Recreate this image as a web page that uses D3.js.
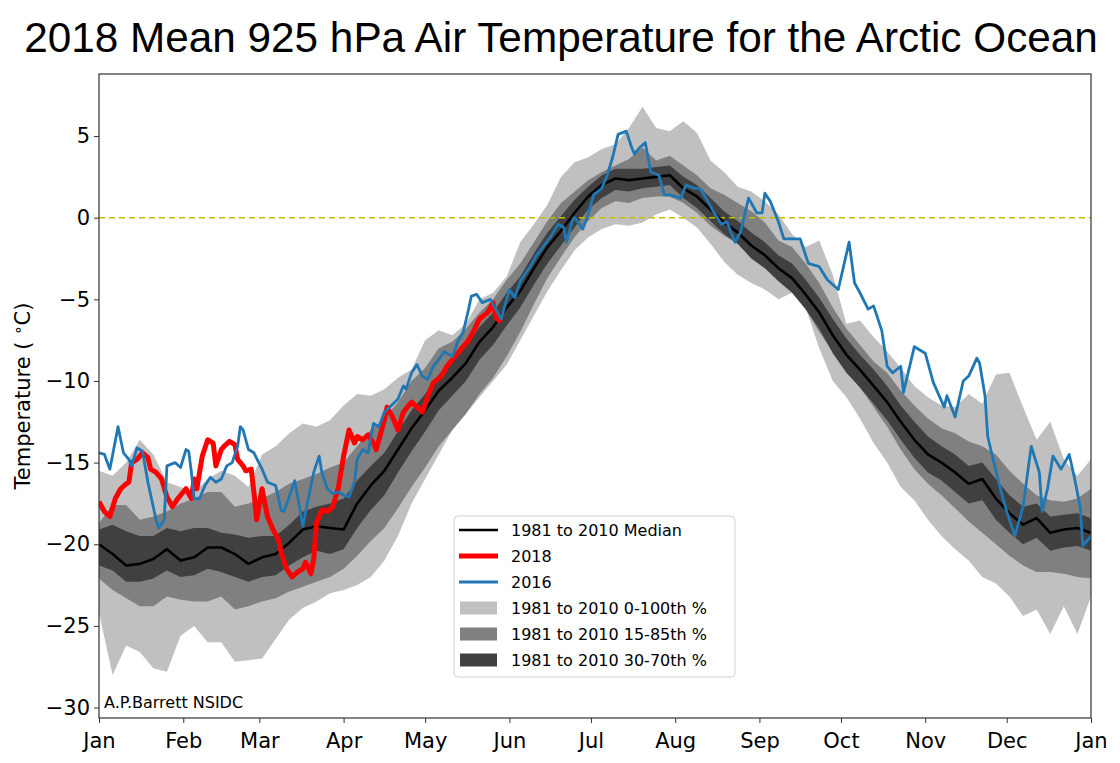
<!DOCTYPE html>
<html><head><meta charset="utf-8">
<script src="https://cdn.jsdelivr.net/npm/d3@7"></script>
<style>body{margin:0;background:#fff;}svg{display:block;font-family:"DejaVu Sans",sans-serif;}</style>
</head><body><svg id="c" width="1120" height="763"></svg>
<script>
// ---- data ----
const monthLabels = ["Jan","Feb","Mar","Apr","May","Jun","Jul","Aug","Sep","Oct","Nov","Dec","Jan"];
const monthDays = [0,31,59,90,120,151,181,212,243,273,304,334,365];
const yTicks = [5,0,-5,-10,-15,-20,-25,-30];
const bandDays = [0,5,10,15,20,25,30,35,40,45,50,55,60,65,70,75,80,85,90,95,100,105,110,115,120,125,130,135,140,145,150,155,160,165,170,175,180,185,190,195,200,205,210,215,220,225,230,235,240,245,250,255,260,265,270,275,280,285,290,295,300,305,310,315,320,325,330,335,340,345,350,355,360,365];
const median = [-20.0,-20.6,-21.3,-21.2,-20.9,-20.3,-21.0,-20.8,-20.2,-20.2,-20.6,-21.2,-20.8,-20.6,-19.9,-19.1,-18.9,-19.0,-19.1,-17.5,-16.4,-15.5,-14.2,-12.9,-11.8,-10.6,-9.8,-8.9,-7.6,-6.7,-5.5,-4.5,-3.1,-1.8,-0.8,0.3,1.3,2.0,2.4,2.3,2.4,2.5,2.6,1.8,1.3,0.5,-0.3,-0.9,-1.7,-2.3,-3.1,-3.7,-4.7,-5.8,-7.2,-8.4,-9.3,-10.3,-11.3,-12.5,-13.6,-14.5,-15.0,-15.6,-16.3,-16.0,-17.2,-18.1,-18.8,-18.4,-19.3,-19.1,-19.0,-19.3];
const p100 = [-15.5,-15.8,-15.0,-13.6,-14.5,-16.2,-16.5,-16.8,-16.0,-15.5,-15.8,-16.5,-14.5,-14.0,-13.2,-12.6,-12.8,-12.4,-11.5,-10.8,-10.9,-10.5,-9.8,-9.3,-7.5,-6.9,-7.2,-6.5,-5.0,-4.6,-3.6,-1.5,-0.4,0.8,2.5,3.4,3.7,4.2,4.5,5.5,6.8,5.5,5.3,5.9,5.2,3.5,2.8,1.9,1.6,1.0,0.2,-1.0,-1.8,-1.4,-3.5,-6.5,-6.3,-7.3,-8.2,-9.2,-10.3,-11.0,-11.5,-11.6,-10.8,-11.4,-9.6,-9.5,-11.6,-13.6,-12.5,-14.8,-15.8,-14.8];
const p0 = [-24.2,-28.0,-26.2,-26.6,-27.6,-27.8,-25.6,-25.0,-26.0,-26.0,-27.2,-27.1,-27.0,-25.8,-24.6,-23.9,-23.5,-23.0,-22.8,-22.5,-22.0,-21.0,-19.5,-17.5,-16.0,-14.5,-13.0,-12.0,-11.0,-10.0,-9.0,-7.5,-6.0,-4.5,-3.2,-2.0,-1.2,-0.7,-0.4,-0.5,-0.3,0.2,0.5,0.0,-0.6,-1.6,-2.7,-3.5,-4.0,-4.4,-5.0,-4.6,-5.5,-8.0,-10.0,-11.0,-12.3,-13.8,-15.0,-16.5,-17.3,-18.5,-19.5,-20.3,-21.0,-22.0,-22.4,-23.2,-24.4,-24.0,-25.5,-23.8,-25.5,-23.2];
const p85 = [-18.7,-17.6,-17.6,-18.5,-18.3,-18.0,-17.5,-17.2,-16.8,-16.8,-17.7,-17.5,-17.2,-16.8,-16.3,-16.0,-15.7,-15.3,-15.0,-14.0,-13.0,-12.3,-11.3,-10.0,-9.2,-8.0,-7.6,-6.8,-5.8,-5.0,-3.8,-2.8,-1.5,-0.2,0.9,1.6,2.3,2.8,3.2,3.6,4.3,3.5,3.8,3.2,2.6,1.8,1.4,0.9,0.4,-0.3,-1.4,-1.8,-2.8,-4.0,-5.5,-6.8,-7.8,-8.8,-9.5,-10.6,-11.5,-12.3,-12.9,-13.2,-13.7,-14.0,-14.5,-15.5,-16.3,-17.0,-17.3,-17.4,-17.2,-16.6];
const p15 = [-22.1,-22.8,-23.3,-23.8,-23.8,-23.2,-23.4,-23.5,-23.5,-23.2,-24.0,-23.8,-23.5,-23.3,-22.9,-22.6,-22.3,-22.0,-21.5,-20.7,-19.8,-19.0,-17.8,-16.5,-15.3,-14.0,-13.0,-12.0,-10.8,-9.8,-8.5,-7.0,-5.3,-3.7,-2.4,-1.2,-0.2,0.6,1.0,0.9,1.2,1.3,1.3,0.9,0.3,-0.5,-1.1,-1.6,-2.4,-3.0,-3.8,-4.5,-5.6,-7.0,-8.2,-9.3,-10.4,-11.6,-12.8,-14.2,-15.4,-16.3,-17.0,-17.8,-18.6,-19.3,-20.0,-20.7,-21.3,-21.7,-21.7,-21.8,-22.0,-22.1];
const p70 = [-19.1,-18.8,-19.2,-19.5,-19.5,-19.0,-19.2,-19.0,-19.0,-19.3,-19.4,-19.6,-19.5,-19.5,-18.8,-18.0,-17.7,-17.5,-17.2,-16.1,-15.2,-14.4,-13.1,-11.8,-10.8,-9.6,-8.8,-7.9,-6.7,-5.8,-4.6,-3.6,-2.2,-0.9,0.1,1.1,1.9,2.6,3.0,3.0,3.0,3.1,3.2,2.5,2.0,1.2,0.4,-0.2,-0.9,-1.5,-2.3,-2.8,-3.8,-4.9,-6.2,-7.4,-8.4,-9.3,-10.3,-11.5,-12.5,-13.4,-14.0,-14.5,-15.2,-15.0,-16.0,-17.0,-17.7,-17.5,-18.3,-18.2,-18.1,-18.4];
const p30 = [-21.3,-21.6,-22.3,-22.3,-22.1,-21.6,-22.0,-21.9,-21.5,-21.7,-22.0,-22.3,-22.0,-21.9,-21.3,-20.8,-20.4,-20.6,-20.3,-19.0,-17.9,-17.0,-15.6,-14.3,-13.1,-11.8,-10.9,-10.0,-8.7,-7.8,-6.6,-5.5,-4.1,-2.8,-1.7,-0.6,0.5,1.2,1.7,1.6,1.8,1.9,2.0,1.2,0.6,-0.2,-1.0,-1.6,-2.5,-3.1,-3.9,-4.6,-5.6,-6.8,-8.3,-9.5,-10.4,-11.4,-12.4,-13.6,-14.7,-15.6,-16.1,-16.8,-17.5,-17.3,-18.5,-19.3,-20.0,-19.6,-20.4,-20.2,-20.1,-20.4];
const days2018 = [0,2,4,6,8,10,11,12,14,16,18,19,21,23,25,27,29,31,32,34,35,36,38,40,42,43,45,46,48,50,51,53,54,56,57,58,60,62,64,66,67,69,71,73,75,76,78,79,80,82,84,86,88,90,92,94,95,97,99,101,102,105,106,108,110,112,115,117,119,121,123,126,128,130,133,136,138,140,143,145,146,148];
const temp2018 = [-17.4,-18.0,-18.3,-17.2,-16.6,-16.3,-16.2,-15.0,-14.8,-14.4,-14.7,-15.4,-15.6,-16.0,-17.1,-17.7,-17.2,-16.8,-16.6,-17.2,-16.0,-16.6,-14.6,-13.6,-13.8,-15.2,-14.2,-14.0,-13.7,-13.9,-14.8,-15.2,-15.5,-15.4,-16.8,-18.5,-16.6,-18.3,-19.1,-19.7,-20.5,-21.5,-22.0,-21.7,-21.5,-21.1,-21.8,-20.9,-18.7,-17.9,-18.0,-17.7,-16.6,-14.6,-13.0,-13.8,-13.4,-13.6,-13.3,-13.8,-14.2,-12.4,-11.6,-12.2,-13.0,-11.9,-11.3,-11.6,-11.9,-10.9,-10.1,-9.7,-9.1,-8.7,-8.1,-7.5,-6.9,-6.2,-5.8,-5.2,-6.1,-6.4];
const days2016 = [0,2,4,7,9,11,12,14,16,18,21,22,24,25,28,30,32,33,34,35,37,39,41,43,45,47,49,51,52,53,55,57,60,62,65,67,68,70,72,74,75,77,79,81,82,84,86,88,90,92,94,95,97,99,101,103,105,107,110,112,113,115,117,119,121,123,125,127,130,132,134,136,137,139,141,144,146,148,151,153,155,159,161,164,166,169,171,172,174,175,178,180,182,185,187,189,191,194,196,197,199,201,203,206,208,210,214,216,219,221,224,226,229,231,234,236,239,242,244,245,247,250,252,255,258,261,265,268,272,276,278,280,283,285,288,290,292,295,296,300,302,304,307,311,312,315,318,320,323,324,326,327,331,334,337,340,343,346,347,349,351,354,357,359,361,362,364,365];
const temp2016 = [-14.4,-14.5,-15.4,-12.8,-14.4,-14.8,-15.2,-14.1,-14.3,-16.2,-18.5,-19.0,-18.5,-15.2,-15.0,-15.3,-14.2,-14.3,-15.6,-17.2,-17.2,-16.4,-15.9,-16.2,-16.0,-15.2,-15.0,-14.0,-12.8,-13.0,-14.2,-14.4,-15.4,-16.2,-16.4,-17.9,-18.0,-17.1,-16.1,-17.9,-18.9,-17.2,-15.6,-14.6,-15.6,-16.6,-16.9,-16.8,-17.0,-17.1,-16.2,-14.8,-14.2,-14.4,-12.6,-12.8,-11.9,-11.6,-11.1,-10.3,-10.5,-9.5,-9.0,-9.7,-9.9,-9.1,-8.7,-8.2,-8.5,-7.6,-7.0,-5.6,-4.8,-4.7,-5.2,-5.0,-5.6,-6.2,-4.4,-4.9,-3.9,-2.9,-2.3,-1.65,-1.2,-0.4,-0.6,-1.5,-0.25,0.0,-0.7,0.2,1.4,1.8,2.6,3.7,5.1,5.3,4.3,3.9,4.3,4.6,2.8,2.6,1.4,1.4,1.2,2.0,1.8,1.8,1.0,0.4,-0.4,-0.25,-1.5,-0.9,1.2,0.3,0.3,1.5,1.0,-0.25,-1.3,-1.3,-1.3,-2.8,-3.0,-3.8,-4.4,-1.5,-4.0,-4.6,-5.6,-5.4,-6.9,-9.1,-9.5,-9.1,-10.7,-7.9,-8.1,-8.3,-10.1,-11.6,-10.9,-12.2,-10.0,-9.7,-8.6,-8.9,-10.9,-13.4,-16.2,-18.0,-19.5,-17.7,-14.0,-15.6,-18.0,-16.6,-14.6,-15.4,-14.5,-16.0,-17.7,-20.1,-19.7,-19.5];
const legendLabels = ["1981 to 2010 Median","2018","2016","1981 to 2010 0-100th %","1981 to 2010 15-85th %","1981 to 2010 30-70th %"];

// ---- drawing ----
const svg = d3.select("#c");
const L = 99, R = 1091, T = 74, B = 718;
const x = d3.scaleLinear().domain([0,365]).range([L,R]);
const y = d3.scaleLinear().domain([-30.64,8.80]).range([B,T]);

svg.append("text").attr("x",561).attr("y",52).attr("text-anchor","middle")
  .attr("font-family","'Liberation Sans', Arial, sans-serif")
  .attr("font-size",42.3).attr("fill","#000").text("2018 Mean 925 hPa Air Temperature for the Arctic Ocean");

const g = svg.append("g");
g.append("defs").append("clipPath").attr("id","clip").append("rect")
  .attr("x",L).attr("y",T).attr("width",R-L).attr("height",B-T);
const plot = g.append("g").attr("clip-path","url(#clip)");

const band = (lo,hi,color) => {
  const a = d3.area().x((d,i)=>x(bandDays[i])).y0((d,i)=>y(lo[i])).y1((d,i)=>y(hi[i]));
  plot.append("path").datum(bandDays).attr("d",a).attr("fill",color);
};
band(p0,p100,"#c0c0c0");
band(p15,p85,"#808080");
band(p30,p70,"#404040");

plot.append("line").attr("x1",L).attr("x2",R).attr("y1",y(0)).attr("y2",y(0))
  .attr("stroke","#bfbf00").attr("stroke-width",1.6).attr("stroke-dasharray","6,4");

const line = (ds,vs,color,w) => {
  const l = d3.line().x((d,i)=>x(ds[i])).y((d,i)=>y(vs[i]));
  plot.append("path").datum(ds).attr("d",l).attr("fill","none").attr("stroke",color)
    .attr("stroke-width",w).attr("stroke-linejoin","round");
};
line(bandDays,median,"#000000",2.6);
line(days2018,temp2018,"#ff0000",5);
line(days2016,temp2016,"#1f77b4",2.8);

// axes
const xAxis = d3.axisBottom(x).tickValues(monthDays).tickFormat((d,i)=>monthLabels[i]).tickSize(5).tickSizeOuter(0);
const gx = svg.append("g").attr("transform",`translate(0,${B})`).call(xAxis);
gx.selectAll("text").attr("font-size",21).attr("dy","1.05em").attr("fill","#000").attr("font-family","DejaVu Sans");
gx.selectAll("line").attr("stroke","#333");
gx.select(".domain").remove();
const yAxis = d3.axisLeft(y).tickValues(yTicks).tickFormat(d=>d<0?"\u2212"+Math.abs(d):String(d)).tickSize(5).tickSizeOuter(0);
const gy = svg.append("g").attr("transform",`translate(${L},0)`).call(yAxis);
gy.selectAll("text").attr("font-size",21).attr("fill","#000").attr("x",-9).attr("font-family","DejaVu Sans");
gy.selectAll("line").attr("stroke","#333");
gy.select(".domain").remove();
svg.append("rect").attr("x",L).attr("y",T).attr("width",R-L).attr("height",B-T)
  .attr("fill","none").attr("stroke","#333").attr("stroke-width",1.2);

// y label
const yl = svg.append("text").attr("transform","translate(30,396) rotate(-90)")
  .attr("text-anchor","middle").attr("font-size",21).attr("fill","#000");
yl.append("tspan").text("Temperature ( ");
yl.append("tspan").attr("font-size",15).attr("dy",-7).text("\u2218");
yl.append("tspan").attr("dy",7).text("C)");

svg.append("text").attr("x",104).attr("y",708).attr("font-size",16).attr("fill","#000").text("A.P.Barrett NSIDC");

// legend
const lg = svg.append("g");
lg.append("rect").attr("x",454).attr("y",516).attr("width",281).attr("height",161).attr("rx",4)
  .attr("fill","rgba(255,255,255,0.8)").attr("stroke","#d0d0d0");
const rowY = i => 530 + i*26;
const handles = [
  {t:"line",c:"#000000",w:2.6},{t:"line",c:"#ff0000",w:5},{t:"line",c:"#1f77b4",w:2.8},
  {t:"rect",c:"#c0c0c0"},{t:"rect",c:"#808080"},{t:"rect",c:"#404040"}];
legendLabels.forEach((lab,i)=>{
  const h = handles[i];
  if (h.t==="line") lg.append("line").attr("x1",459).attr("x2",498).attr("y1",rowY(i)).attr("y2",rowY(i)).attr("stroke",h.c).attr("stroke-width",h.w);
  else lg.append("rect").attr("x",460).attr("y",rowY(i)-6.5).attr("width",37).attr("height",13).attr("fill",h.c);
  lg.append("text").attr("x",511).attr("y",rowY(i)).attr("dy","0.36em").attr("font-size",16).attr("fill","#000").text(lab);
});
</script></body></html>
